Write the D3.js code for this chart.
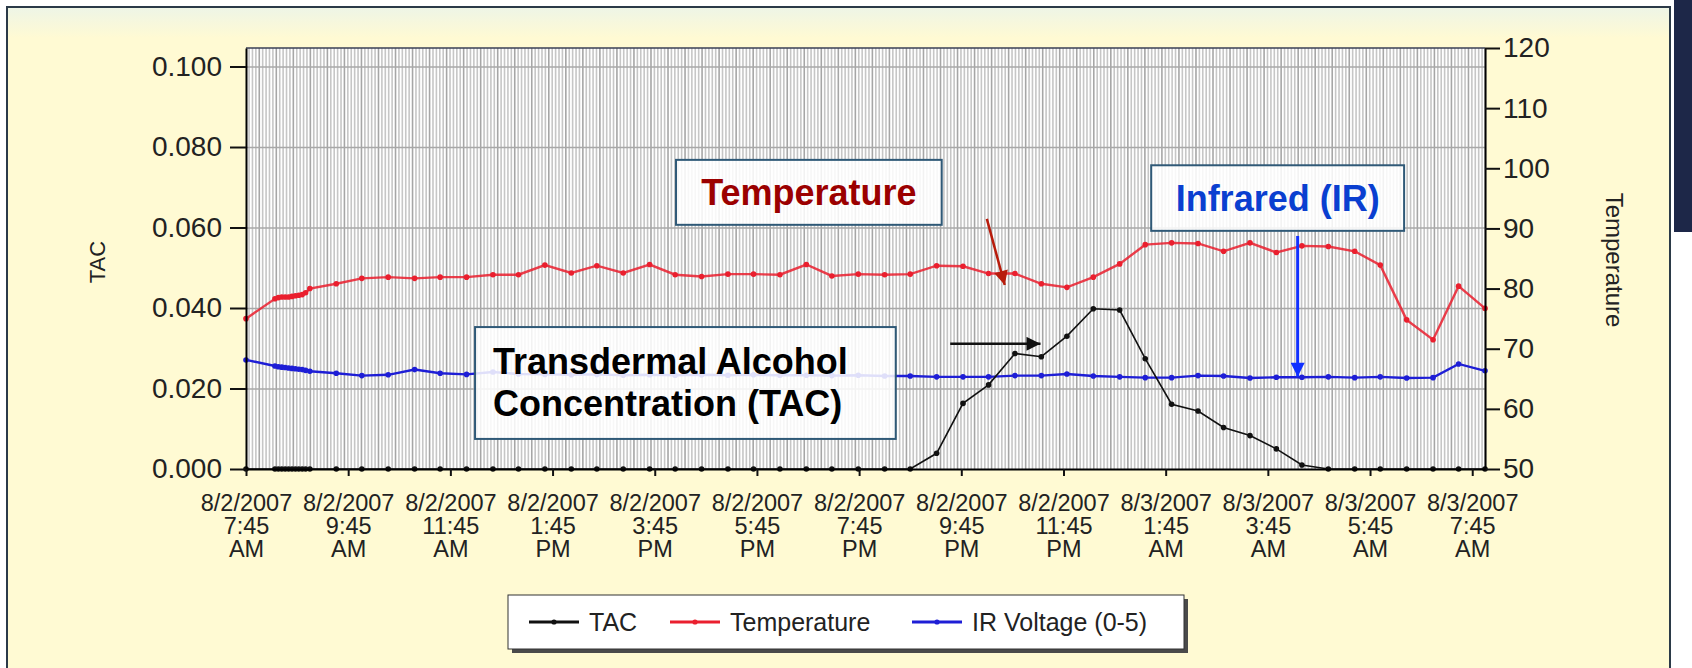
<!DOCTYPE html>
<html>
<head>
<meta charset="utf-8">
<script src="https://cdn.jsdelivr.net/npm/d3@7"></script>
<style>
  body { margin: 0; background: #fff; }
  svg { display: block; font-family: "Liberation Sans", Arial, sans-serif; }
</style>
</head>
<body>
<div id="chart"></div>
<script>
'use strict'

// sample times, 8/2/2007 7:45 AM to 8/3/2007 8:00 AM
const times = [
    '2007-08-02 07:45',
    '2007-08-02 08:19', '2007-08-02 08:23', '2007-08-02 08:27', '2007-08-02 08:31', '2007-08-02 08:35',
    '2007-08-02 08:39', '2007-08-02 08:43', '2007-08-02 08:47', '2007-08-02 08:51', '2007-08-02 08:55',
    '2007-08-02 09:00', '2007-08-02 09:31', '2007-08-02 10:01', '2007-08-02 10:32', '2007-08-02 11:03',
    '2007-08-02 11:33', '2007-08-02 12:04', '2007-08-02 12:35', '2007-08-02 13:05', '2007-08-02 13:36',
    '2007-08-02 14:07', '2007-08-02 14:37', '2007-08-02 15:08', '2007-08-02 15:39', '2007-08-02 16:09',
    '2007-08-02 16:40', '2007-08-02 17:11', '2007-08-02 17:41', '2007-08-02 18:12', '2007-08-02 18:43',
    '2007-08-02 19:13', '2007-08-02 19:44', '2007-08-02 20:15', '2007-08-02 20:45', '2007-08-02 21:16',
    '2007-08-02 21:47', '2007-08-02 22:17', '2007-08-02 22:48', '2007-08-02 23:19', '2007-08-02 23:49',
    '2007-08-03 00:20', '2007-08-03 00:51', '2007-08-03 01:21', '2007-08-03 01:52', '2007-08-03 02:23',
    '2007-08-03 02:53', '2007-08-03 03:24', '2007-08-03 03:55', '2007-08-03 04:25', '2007-08-03 04:56',
    '2007-08-03 05:27', '2007-08-03 05:57', '2007-08-03 06:28', '2007-08-03 06:59', '2007-08-03 07:29',
    '2007-08-03 08:00'
]

// transdermal alcohol concentration (left axis)
const tac = [
    0,
    0, 0, 0, 0, 0, 0, 0, 0, 0, 0,
    0, 0, 0, 0, 0, 0, 0, 0, 0, 0,
    0, 0, 0, 0, 0, 0, 0, 0, 0, 0,
    0, 0, 0, 0, 0.0039, 0.0163, 0.0209, 0.0287, 0.0279, 0.0330,
    0.0398, 0.0395, 0.0274, 0.0161, 0.0144, 0.0103, 0.0083, 0.0050, 0.0010, 0,
    0, 0, 0, 0, 0, 0
]

// skin temperature, deg F (right axis)
const temperature = [
    75.0,
    78.3, 78.5, 78.6, 78.6, 78.6, 78.7, 78.8, 78.9, 79.0, 79.3,
    80.0, 80.8, 81.7, 81.9, 81.7, 81.9, 81.9, 82.3, 82.3, 83.9,
    82.6, 83.8, 82.6, 84.0, 82.3, 82.0, 82.4, 82.4, 82.3, 84.0,
    82.1, 82.4, 82.3, 82.4, 83.8, 83.7, 82.5, 82.5, 80.8, 80.2,
    81.9, 84.1, 87.3, 87.6, 87.5, 86.2, 87.6, 86.0, 87.1, 87.0,
    86.2, 83.9, 74.8, 71.5, 80.4, 76.7
]

// IR voltage, drawn against the left axis
const irVoltage = [
    0.0271,
    0.0256, 0.0254, 0.0253, 0.0252, 0.0251, 0.0250, 0.0249, 0.0248, 0.0247, 0.0245,
    0.0243, 0.0238, 0.0232, 0.0234, 0.0247, 0.0238, 0.0235, 0.0241, 0.0236, 0.0235,
    0.0234, 0.0235, 0.0233, 0.0234, 0.0233, 0.0234, 0.0233, 0.0234, 0.0233, 0.0233,
    0.0232, 0.0233, 0.0231, 0.0231, 0.0229, 0.0229, 0.0229, 0.0232, 0.0232, 0.0236,
    0.0231, 0.0229, 0.0227, 0.0227, 0.0232, 0.0231, 0.0226, 0.0228, 0.0228, 0.0229,
    0.0227, 0.0229, 0.0226, 0.0227, 0.0261, 0.0244
]

const xTicks = [
    '2007-08-02 07:45', '2007-08-02 09:45', '2007-08-02 11:45', '2007-08-02 13:45', '2007-08-02 15:45',
    '2007-08-02 17:45', '2007-08-02 19:45', '2007-08-02 21:45', '2007-08-02 23:45', '2007-08-03 01:45',
    '2007-08-03 03:45', '2007-08-03 05:45', '2007-08-03 07:45'
]
const tacTicks = [0, 0.02, 0.04, 0.06, 0.08, 0.10]
const tempTicks = [50, 60, 70, 80, 90, 100, 110, 120]

const legendNames = ['TAC', 'Temperature', 'IR Voltage (0-5)']

const parseTime = d3.timeParse('%Y-%m-%d %H:%M')
const rows = times.map((t, i) => ({ t: parseTime(t), tac: tac[i], temp: temperature[i], ir: irVoltage[i] }))

// margins for the plot area
const svgWidth = 1692
const svgHeight = 668
const margin = { left: 246, right: 207, top: 48, bottom: 199 }
const width = svgWidth - margin.left - margin.right
const height = svgHeight - margin.top - margin.bottom

const svg = d3.select('#chart')
    .append('svg')
    .attr('width', svgWidth)
    .attr('height', svgHeight)

const defs = svg.append('defs')
const glow = defs.append('linearGradient').attr('id', 'topGlow').attr('x1', 0).attr('x2', 0).attr('y1', 0).attr('y2', 1)
glow.append('stop').attr('offset', 0).attr('stop-color', '#eef5e6')
glow.append('stop').attr('offset', 1).attr('stop-color', '#fffad3')

// page background and framed panel
svg.append('rect').attr('width', svgWidth).attr('height', svgHeight).attr('fill', '#ffffff')
svg.append('rect').attr('x', 1674).attr('y', 0).attr('width', 18).attr('height', 232).attr('fill', '#1d2748')
svg.append('rect')
    .attr('x', 7).attr('y', 7).attr('width', 1663).attr('height', 690)
    .attr('fill', '#fffad3').attr('stroke', '#2b3a48').attr('stroke-width', 2)
svg.append('rect').attr('x', 8).attr('y', 8).attr('width', 1661).attr('height', 30).attr('fill', 'url(#topGlow)')

const g = svg.append('g').attr('transform', `translate(${margin.left},${margin.top})`)

////////////////////////////////////
//////////////scales////////////////
////////////////////////////////////

const x = d3.scaleTime()
    .domain([parseTime('2007-08-02 07:45'), parseTime('2007-08-03 08:00')])
    .range([0, width])

const yTac = d3.scaleLinear().domain([0, 0.1046]).range([height, 0])
const yTemp = d3.scaleLinear().domain([50, 120]).range([height, 0])

////////////////////////////////////
///////////////grid/////////////////
////////////////////////////////////

g.append('rect').attr('width', width).attr('height', height).attr('fill', '#ffffff')

const gridX = g.append('g')
    .attr('transform', `translate(0,${height})`)
    .call(d3.axisBottom(x).ticks(d3.timeMinute.every(4)).tickSize(-height).tickFormat(''))
gridX.select('.domain').remove()
gridX.selectAll('line')
    .attr('stroke', d => d.getMinutes() % 20 === 0 ? '#a6a6a6' : '#c6c6c6')
    .attr('stroke-width', 1.6)

const gridY = g.append('g')
    .call(d3.axisLeft(yTac).tickValues(tacTicks.filter(v => v > 0)).tickSize(-width).tickFormat(''))
gridY.select('.domain').remove()
gridY.selectAll('line').attr('stroke', '#a8a8a8').attr('stroke-width', 1.6)

// top border of the plot
g.append('line').attr('x1', 0).attr('x2', width).attr('y1', 0).attr('y2', 0)
    .attr('stroke', '#3a3f55').attr('stroke-width', 1.5)

////////////////////////////////////
//////////////series////////////////
////////////////////////////////////

const series = [
    { key: 'ir', color: '#1e1ed6', scale: yTac, width: 2.4 },
    { key: 'temp', color: '#ea1f2e', scale: yTemp, width: 2.4 },
    { key: 'tac', color: '#111111', scale: yTac, width: 1.6 }
]

series.forEach(s => {
    const line = d3.line().x(d => x(d.t)).y(d => s.scale(d[s.key]))
    g.append('path')
        .datum(rows)
        .attr('d', line)
        .attr('fill', 'none')
        .attr('stroke', s.color)
        .attr('stroke-width', s.width)
        .attr('stroke-opacity', s.key === 'temp' ? 0.85 : 1)
    g.selectAll(`.dot-${s.key}`)
        .data(rows)
        .join('circle')
        .attr('class', `dot-${s.key}`)
        .attr('cx', d => x(d.t))
        .attr('cy', d => s.scale(d[s.key]))
        .attr('r', 2.8)
        .attr('fill', s.color)
})

////////////////////////////////////
///////////////axis/////////////////
////////////////////////////////////

function styleAxis(sel, size) {
    sel.attr('font-size', size).attr('font-family', '"Liberation Sans", Arial, sans-serif')
    sel.select('.domain').attr('stroke', '#000').attr('stroke-width', 2)
    sel.selectAll('.tick line').attr('stroke', '#111').attr('stroke-width', 2)
    sel.selectAll('.tick text').attr('fill', '#222')
}

const leftAxis = g.append('g')
    .call(d3.axisLeft(yTac).tickValues(tacTicks).tickFormat(d3.format('.3f'))
        .tickSize(16).tickSizeOuter(0).tickPadding(8))
styleAxis(leftAxis, 28)

const rightAxis = g.append('g')
    .attr('transform', `translate(${width},0)`)
    .call(d3.axisRight(yTemp).tickValues(tempTicks).tickSize(15).tickSizeOuter(0).tickPadding(3))
styleAxis(rightAxis, 28)

const bottomAxis = g.append('g')
    .attr('transform', `translate(0,${height})`)
    .call(d3.axisBottom(x).tickValues(xTicks.map(parseTime)).tickFormat('').tickSize(7).tickSizeOuter(0))
styleAxis(bottomAxis, 23.5)

const fmtDate = d3.timeFormat('%-m/%-d/%Y')
const fmtClock = d3.timeFormat('%-I:%M')
const fmtAmPm = d3.timeFormat('%p')
bottomAxis.selectAll('.tick').each(function (d) {
    const t = d3.select(this).append('text').attr('fill', '#222').attr('text-anchor', 'middle')
    t.append('tspan').attr('x', 0).attr('y', 42).text(fmtDate(d))
    t.append('tspan').attr('x', 0).attr('y', 65).text(fmtClock(d))
    t.append('tspan').attr('x', 0).attr('y', 88).text(fmtAmPm(d))
})

// axis titles
svg.append('text')
    .attr('transform', 'translate(97,262) rotate(-90)')
    .attr('text-anchor', 'middle').attr('dominant-baseline', 'central')
    .attr('font-size', 22).attr('fill', '#222')
    .text('TAC')

svg.append('text')
    .attr('transform', 'translate(1614,260) rotate(90)')
    .attr('text-anchor', 'middle').attr('dominant-baseline', 'central')
    .attr('font-size', 24).attr('fill', '#222')
    .text('Temperature')

////////////////////////////////////
////////////annotations/////////////
////////////////////////////////////

const boxes = [
    { lines: ['Temperature'], color: '#9b0000', t0: '2007-08-02 16:10', t1: '2007-08-02 21:22', top: 101.4, bottom: 90.6, align: 'middle' },
    { lines: ['Infrared (IR)'], color: '#0a3fd0', t0: '2007-08-03 01:28', t1: '2007-08-03 06:25', top: 100.5, bottom: 89.6, align: 'middle' },
    { lines: ['Transdermal Alcohol', 'Concentration (TAC)'], color: '#000000', t0: '2007-08-02 12:14', t1: '2007-08-02 20:28', top: 73.6, bottom: 55.0, align: 'start' }
]

boxes.forEach(b => {
    const bx = x(parseTime(b.t0))
    const bw = x(parseTime(b.t1)) - bx
    const by = yTemp(b.top)
    const bh = yTemp(b.bottom) - by
    g.append('rect')
        .attr('x', bx).attr('y', by).attr('width', bw).attr('height', bh)
        .attr('fill', '#ffffff').attr('fill-opacity', 0.86)
        .attr('stroke', '#2f5977').attr('stroke-width', 2)
    const txt = g.append('text')
        .attr('font-size', 36).attr('font-weight', 'bold').attr('fill', b.color)
        .attr('text-anchor', b.align)
    if (b.lines.length === 1) {
        txt.attr('x', bx + bw / 2).attr('y', by + bh / 2 + 13).text(b.lines[0])
    } else {
        b.lines.forEach((l, i) => {
            txt.append('tspan').attr('x', bx + 18).attr('y', by + 47 + i * 42).text(l)
        })
    }
})

const arrows = [
    { color: '#b81c0c', scale: yTemp, from: ['2007-08-02 22:15', 91.6], to: ['2007-08-02 22:36', 80.6], w: 2.5 },
    { color: '#111111', scale: yTac, from: ['2007-08-02 21:32', 0.0311], to: ['2007-08-02 23:18', 0.0311], w: 2.5 },
    { color: '#1030ff', scale: yTac, from: ['2007-08-03 04:20', 0.0579], to: ['2007-08-03 04:20', 0.0229], w: 3 }
]

arrows.forEach((a, i) => {
    defs.append('marker')
        .attr('id', 'head' + i)
        .attr('viewBox', '0 0 10 10')
        .attr('refX', 10).attr('refY', 5)
        .attr('markerUnits', 'userSpaceOnUse')
        .attr('markerWidth', 15).attr('markerHeight', 14)
        .attr('orient', 'auto')
        .append('path').attr('d', 'M0,0L10,5L0,10z').attr('fill', a.color)
    g.append('line')
        .attr('x1', x(parseTime(a.from[0]))).attr('y1', a.scale(a.from[1]))
        .attr('x2', x(parseTime(a.to[0]))).attr('y2', a.scale(a.to[1]))
        .attr('stroke', a.color).attr('stroke-width', a.w)
        .attr('marker-end', `url(#head${i})`)
})

////////////////////////////////////
///////////////legend///////////////
////////////////////////////////////

const legendColors = ['#111111', '#ea1f2e', '#1e1ed6']
const legendX = [529, 670, 912]
const legend = svg.append('g')
legend.append('rect').attr('x', 512).attr('y', 599).attr('width', 676).attr('height', 54).attr('fill', '#4a4a4a')
legend.append('rect').attr('x', 508).attr('y', 595).attr('width', 676).attr('height', 54)
    .attr('fill', '#ffffff').attr('stroke', '#333').attr('stroke-width', 1)

legendNames.forEach((name, i) => {
    const item = legend.append('g').attr('transform', `translate(${legendX[i]},622)`)
    item.append('line').attr('x1', 0).attr('x2', 50).attr('stroke', legendColors[i]).attr('stroke-width', 3)
    item.append('circle').attr('cx', 25).attr('r', 2.6).attr('fill', legendColors[i])
    item.append('text').attr('x', 60).attr('y', 9).attr('font-size', 25).attr('fill', '#222').text(name)
})
</script>
</body>
</html>
